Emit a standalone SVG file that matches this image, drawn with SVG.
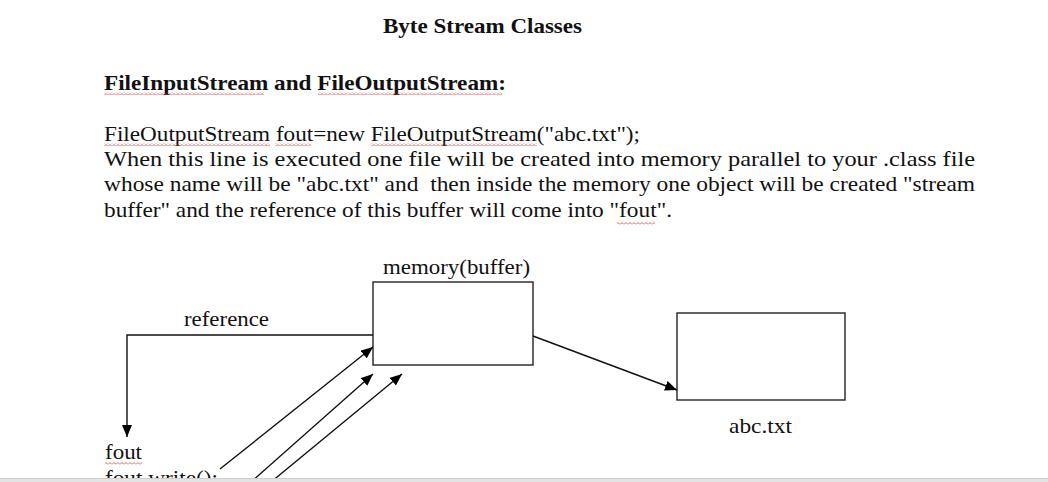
<svg xmlns="http://www.w3.org/2000/svg" width="1048" height="482" viewBox="0 0 1048 482">
  <style>
    .t { font-family: "Liberation Serif", "Times New Roman", serif; font-size: 21px; fill: #111; }
    .b { font-weight: bold; }
    .pre { white-space: pre; }
    .box { fill: #fff; stroke: #222; stroke-width: 1.4; }
    .conn { fill: none; stroke: #111; stroke-width: 1.4; }
    .wavy { fill: url(#wavy); }
  </style>
  <defs>
    <pattern id="wavy" width="4" height="3" patternUnits="userSpaceOnUse">
      <path d="M0,2.5 L2,0.5 L4,2.5" fill="none" stroke="#d23c3c" stroke-width="0.8"/>
    </pattern>
    <marker id="ah" viewBox="0 0 12 10" refX="12" refY="5" markerWidth="12" markerHeight="10" markerUnits="userSpaceOnUse" orient="auto">
      <path d="M0,0 L12,5 L0,10 z" fill="#000"/>
    </marker>
  </defs>
  <rect width="1048" height="482" fill="#fff"/>

  <g id="header">
    <text class="t b" x="383" y="33" textLength="199" lengthAdjust="spacingAndGlyphs">Byte Stream Classes</text>
    <text class="t b" x="104" y="90" textLength="402" lengthAdjust="spacingAndGlyphs">FileInputStream and FileOutputStream:</text>
    <rect class="wavy" x="104" y="92" width="160" height="3"/>
    <rect class="wavy" x="318" y="92" width="184" height="3"/>
  </g>

  <g id="paragraph">
    <text class="t" x="104" y="141" textLength="536" lengthAdjust="spacingAndGlyphs">FileOutputStream fout=new FileOutputStream("abc.txt");</text>
    <rect class="wavy" x="104" y="143" width="166" height="3"/>
    <rect class="wavy" x="275" y="143" width="36" height="3"/>
    <rect class="wavy" x="371" y="143" width="166" height="3"/>
    <text class="t" x="104" y="166" textLength="871" lengthAdjust="spacingAndGlyphs">When this line is executed one file will be created into memory parallel to your .class file</text>
    <text class="t pre" x="104" y="191" textLength="871" lengthAdjust="spacingAndGlyphs">whose name will be "abc.txt" and  then inside the memory one object will be created "stream</text>
    <text class="t" x="104" y="217" textLength="568" lengthAdjust="spacingAndGlyphs">buffer" and the reference of this buffer will come into "fout".</text>
    <rect class="wavy" x="617" y="222" width="38" height="3"/>
  </g>

  <g id="memory-buffer">
    <rect class="box" x="373" y="282" width="160" height="83"/>
    <text class="t" x="383" y="274" textLength="147" lengthAdjust="spacingAndGlyphs">memory(buffer)</text>
  </g>

  <g id="abc-file">
    <rect class="box" x="677" y="313" width="168" height="87"/>
    <text class="t" x="729" y="433" textLength="63" lengthAdjust="spacingAndGlyphs">abc.txt</text>
  </g>

  <g id="fout">
    <text class="t" x="105" y="459" textLength="37" lengthAdjust="spacingAndGlyphs">fout</text>
    <rect class="wavy" x="105" y="462" width="37" height="3"/>
    <text class="t" x="105" y="485" textLength="113" lengthAdjust="spacingAndGlyphs">fout.write();</text>
  </g>

  <g id="connectors">
    <path class="conn" d="M373,335 H127 V437" marker-end="url(#ah)"/>
    <text class="t" x="184" y="326" textLength="85" lengthAdjust="spacingAndGlyphs">reference</text>
    <path class="conn" d="M533,336 L677,390" marker-end="url(#ah)"/>
    <path class="conn" d="M220,469 L373,347" marker-end="url(#ah)"/>
    <path class="conn" d="M251,482 L373,374" marker-end="url(#ah)"/>
    <path class="conn" d="M271,482 L402,374" marker-end="url(#ah)"/>
  </g>

  <g id="bottom-bar">
    <rect x="0" y="479" width="1048" height="3" fill="#e3e3e3"/>
    <line x1="0" y1="478.5" x2="1048" y2="478.5" stroke="#d0d0d0" stroke-width="1"/>
  </g>
</svg>
